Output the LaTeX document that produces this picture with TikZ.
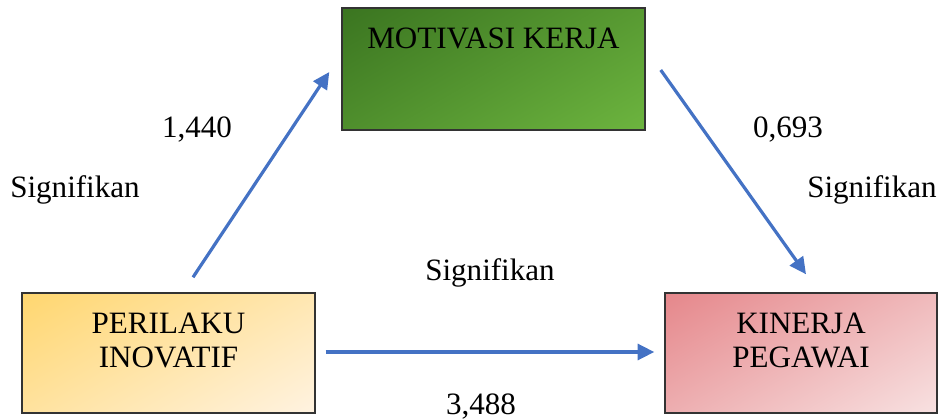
\documentclass[tikz,border=0pt]{standalone}
\usepackage{fontspec}
\setmainfont{Liberation Serif}
\usetikzlibrary{arrows.meta}
\definecolor{arrowblue}{HTML}{4472C4}
\definecolor{gdark}{HTML}{3A7420}
\definecolor{glight}{HTML}{6DB53F}
\definecolor{ydark}{HTML}{FFD66E}
\definecolor{ylight}{HTML}{FFF3E2}
\definecolor{rdark}{HTML}{E5868A}
\definecolor{rlight}{HTML}{F8E2E2}
\definecolor{edge}{HTML}{333333}
\pgfdeclareverticalshading{gshade}{100bp}{color(0bp)=(glight); color(15bp)=(glight); color(85bp)=(gdark); color(100bp)=(gdark)}
\pgfdeclareverticalshading{yshade}{100bp}{color(0bp)=(ylight); color(15bp)=(ylight); color(85bp)=(ydark); color(100bp)=(ydark)}
\pgfdeclareverticalshading{rshade}{100bp}{color(0bp)=(rlight); color(15bp)=(rlight); color(85bp)=(rdark); color(100bp)=(rdark)}
\begin{document}
\begin{tikzpicture}[x=0.75pt,y=-0.75pt,
  box/.style={draw=edge,line width=1.1pt,rectangle,inner sep=0pt,shade,shading angle=30},
  lbl/.style={font=\fontsize{23.3}{25.5}\selectfont,align=center,inner sep=0pt},
  conn/.style={draw=arrowblue,line width=2.4pt,-{Triangle[length=12.5pt,width=12pt]}}]
\useasboundingbox (0,0) rectangle (940,420);
\node[box,shading=gshade,minimum width=303*0.75pt,minimum height=122*0.75pt] (mk) at (493.5,69) {};
\node[box,shading=yshade,minimum width=293*0.75pt,minimum height=120*0.75pt] (pi) at (168.5,353) {};
\node[box,shading=rshade,minimum width=272*0.75pt,minimum height=120*0.75pt] (kp) at (801,353) {};
\node[lbl] (mkt) at (493.5,38) {MOTIVASI KERJA};
\node[lbl] (pit) at (168.5,340) {PERILAKU\\INOVATIF};
\node[lbl] (kpt) at (801,340) {KINERJA\\PEGAWAI};
\draw[conn] ([shift={(24.5,-15)}]pi.north) -- ([shift={(-12,3)}]mk.west);
\draw[conn] ([shift={(15,1)}]mk.east) -- ([shift={(5,-18)}]kp.north);
\draw[conn] ([shift={(10,-1)}]pi.east) -- ([shift={(-10,-1)}]kp.west);
\node[lbl] (l1) at (197,130) {1,440};
\node[lbl] (l2) at (75,190) {Signifikan};
\node[lbl] (l3) at (788,130) {0,693};
\node[lbl] (l4) at (872,190) {Signifikan};
\node[lbl] (l5) at (490,273) {Signifikan};
\node[lbl] (l6) at (481,407) {3,488};
\end{tikzpicture}
\end{document}
